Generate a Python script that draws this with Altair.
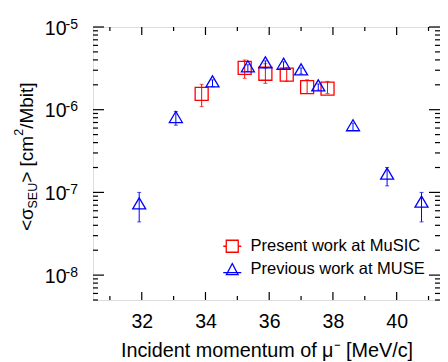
import altair as alt
import pandas as pd

# ---------------- data ----------------
series_names = ["Present work at MuSIC", "Previous work at MUSE"]

music_mom = [33.88, 35.23, 35.88, 36.55, 37.19, 37.83]
music_sig = [1.55e-6, 3.21e-6, 2.72e-6, 2.65e-6, 1.88e-6, 1.80e-6]
music_lo = [1.09e-6, 2.40e-6, 2.08e-6, 2.20e-6, 1.57e-6, 1.57e-6]
music_hi = [2.03e-6, 3.99e-6, 3.60e-6, 3.25e-6, 2.30e-6, 2.20e-6]

muse_mom = [31.92, 33.07, 34.22, 35.33, 35.88, 36.45, 37.00, 37.54, 38.63, 39.70, 40.78]
muse_sig = [7.05e-8, 7.8e-7, 2.10e-6, 3.20e-6, 3.57e-6, 3.44e-6, 2.94e-6, 1.88e-6, 6.2e-7, 1.61e-7, 7.4e-8]
muse_lo = [4.4e-8, 6.5e-7, 1.90e-6, 2.90e-6, 3.20e-6, 3.10e-6, 2.70e-6, 1.72e-6, 5.6e-7, 1.20e-7, 4.4e-8]
muse_hi = [1.0e-7, 9.5e-7, 2.30e-6, 3.50e-6, 3.90e-6, 3.80e-6, 3.20e-6, 2.05e-6, 6.9e-7, 2.00e-7, 1.0e-7]

x_major = [32, 34, 36, 38, 40]
x_minor = [31, 33, 35, 37, 39, 41]
y_major = [1e-8, 1e-7, 1e-6, 1e-5]
y_tick_base = "10"
y_tick_exps = ["-8", "-7", "-6", "-5"]
y_minor = [m * 10.0 ** e for e in (-9, -8, -7, -6) for m in range(2, 10) if 5e-9 <= m * 10.0 ** e <= 1e-5]

x_title = "Incident momentum of μ⁻ [MeV/c]"
y_title_parts = ["<σ", "SEU", "> [cm", "2", "/Mbit]"]
y_title_kind = ["main", "sub", "main", "sup", "main"]

# ---------------- layout / style ----------------
W, H = 347, 273
F = "Liberation Sans, Arial, Helvetica, sans-serif"
RED, BLUE = "#ff0000", "#0000ff"
xscale = alt.Scale(domain=[30.47, 41.36], nice=False, zero=False)
yscale = alt.Scale(type="log", domain=[5e-9, 1e-5], nice=False)

music = pd.DataFrame({"mom": music_mom, "sig": music_sig, "lo": music_lo, "hi": music_hi})
muse = pd.DataFrame({"mom": muse_mom, "sig": muse_sig, "lo": muse_lo, "hi": muse_hi})

x_axis = alt.Axis(values=x_major, format="d", ticks=False, tickSize=0, domain=False, grid=False,
                  labelFont=F, labelFontSize=19.5, labelColor="black", labelPadding=12,
                  title=x_title, titleFont=F, titleFontSize=19.8, titleFontWeight="normal",
                  titleColor="black", titlePadding=10)
y_axis = alt.Axis(values=y_major, labelExpr=f"'{y_tick_base}'", ticks=False, tickSize=0,
                  domain=False, grid=False, labelFont=F, labelFontSize=19.5, labelColor="black",
                  labelPadding=27, labelBaseline="middle", labelOffset=1, title="")


def X(field):
    return alt.X(field, type="quantitative", scale=xscale, axis=x_axis)


def Y(field):
    return alt.Y(field, type="quantitative", scale=yscale, axis=y_axis)


def errbars(df, color):
    bar = alt.Chart(df).mark_rule(color=color, strokeWidth=1).encode(
        x=X("mom"), y=Y("lo"), y2="hi:Q")
    cap_lo = alt.Chart(df).mark_tick(color=color, orient="horizontal", size=4, thickness=1).encode(
        x=X("mom"), y=Y("lo"))
    cap_hi = alt.Chart(df).mark_tick(color=color, orient="horizontal", size=4, thickness=1).encode(
        x=X("mom"), y=Y("hi"))
    return [bar, cap_lo, cap_hi]


red_pts = alt.Chart(music).mark_point(shape="square", size=169, filled=False, color=RED,
                                      strokeWidth=1.3, opacity=1).encode(x=X("mom"), y=Y("sig"))

TRI = "M0,-1.1L1,0.6L-1,0.6Z"
blue_pts = alt.Chart(muse).mark_point(shape=TRI, size=169, filled=False, color=BLUE,
                                      strokeWidth=1.3, opacity=1).encode(x=X("mom"), y=Y("sig"))

# inward ticks on all four sides
tick_layers = []
for vals, ln in ((x_major, 8), (x_minor, 4)):
    d = pd.DataFrame({"t": vals})
    tick_layers.append(alt.Chart(d).mark_rule(color="black", strokeWidth=1.2).encode(
        x=X("t"), y=alt.value(H), y2=alt.value(H - ln)))
    tick_layers.append(alt.Chart(d).mark_rule(color="black", strokeWidth=1.2).encode(
        x=X("t"), y=alt.value(0), y2=alt.value(ln)))
for vals, ln in ((y_major, 11), (y_minor, 5)):
    d = pd.DataFrame({"t": vals})
    tick_layers.append(alt.Chart(d).mark_rule(color="black", strokeWidth=1.2).encode(
        y=Y("t"), x=alt.value(0), x2=alt.value(ln)))
    tick_layers.append(alt.Chart(d).mark_rule(color="black", strokeWidth=1.2).encode(
        y=Y("t"), x=alt.value(W), x2=alt.value(W - ln)))

# exponents of the y tick labels (superscripts)
exp_layer = alt.Chart(pd.DataFrame({"t": y_major, "e": y_tick_exps})).mark_text(
    align="left", baseline="alphabetic", font=F, fontSize=14, color="black", dy=1.5).encode(
    y=Y("t"), x=alt.value(-27.5), text="e:N")

# legend (symbols with the key line through them)
SQ_KEY = "M-1,-1H1V1H-1ZM-1.5,0H-1M1,0H1.5"
TRI_KEY = "M0,-0.95L0.97,0.9L-0.97,0.9ZM-1.5,0.55H1.5"
leg = alt.Legend(title=None, orient="none", legendX=131.0, legendY=211, padding=0,
                 labelFont=F, labelFontSize=16.5, labelColor="black", labelOffset=10,
                 labelLimit=400, symbolSize=144, symbolStrokeWidth=1.3, rowPadding=5,
                 symbolOffset=0)
legend_layer = alt.Chart(pd.DataFrame({"series": series_names})).mark_point(
    filled=False, opacity=1, strokeWidth=1.3).encode(
    shape=alt.Shape("series:N", scale=alt.Scale(domain=series_names, range=[SQ_KEY, TRI_KEY]), legend=leg),
    color=alt.Color("series:N", scale=alt.Scale(domain=series_names, range=[RED, BLUE]), legend=leg),
).transform_filter("false")

# y title with sub/superscripts, drawn rotated
em = {"<": 0.584, "σ": 0.6, "S": 0.667, "E": 0.667, "U": 0.722, ">": 0.584, " ": 0.278,
      "[": 0.278, "c": 0.5, "m": 0.833, "2": 0.556, "/": 0.278, "M": 0.833, "b": 0.556,
      "i": 0.222, "t": 0.278, "]": 0.278}
kind_style = {"main": (19, -59.7), "sub": (12.5, -56.0), "sup": (12.5, -70.0)}
title_layers = []
ypos = 204.0
for part, kind in zip(y_title_parts, y_title_kind):
    fs, xb = kind_style[kind]
    title_layers.append(alt.Chart(pd.DataFrame({"t": [part]})).mark_text(
        angle=270, align="left", baseline="alphabetic", font=F, fontSize=fs, color="black").encode(
        text="t:N", x=alt.value(xb), y=alt.value(ypos)))
    ypos -= sum(em.get(ch, 0.55) for ch in part) * fs

chart = alt.layer(
    *errbars(music, RED), red_pts,
    *errbars(muse, BLUE), blue_pts,
    *tick_layers, exp_layer, legend_layer, *title_layers,
).properties(
    width=W, height=H,
    autosize=alt.AutoSizeParams(type="none"),
    padding={"left": 85, "top": 19, "right": 0, "bottom": 62},
).configure_view(stroke="black", strokeWidth=1.5).configure(background="white")

chart.save("out.html", embed_options={"renderer": "svg", "actions": False})
